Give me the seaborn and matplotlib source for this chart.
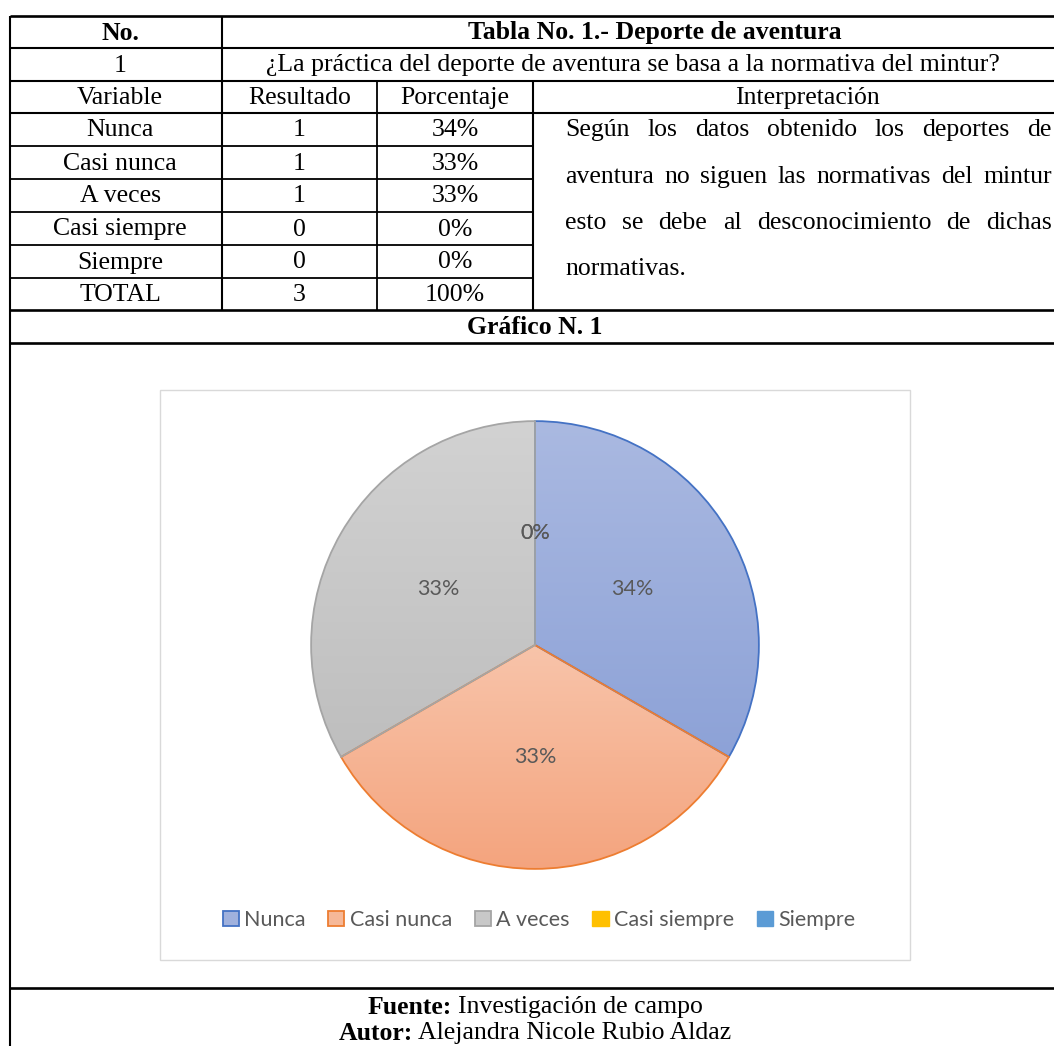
import numpy as np
import pandas as pd
import matplotlib.pyplot as plt
import seaborn as sns
from matplotlib.patches import Patch, Rectangle
from matplotlib.colors import LinearSegmentedColormap

# Data
variables = ["Nunca", "Casi nunca", "A veces", "Casi siempre", "Siempre"]
resultados = [1, 1, 1, 0, 0]
porcentajes = [34, 33, 33, 0, 0]
total_resultado = 3
total_porcentaje = 100

titulo = "Tabla No. 1.- Deporte de aventura"
pregunta = "¿La práctica del deporte de aventura se basa a la normativa del mintur?"
interpretacion = [
    "Según los datos obtenido los deportes de",
    "aventura no siguen las normativas del mintur",
    "esto se debe al desconocimiento de dichas",
    "normativas.",
]
grafico_titulo = "Gráfico N. 1"
fuente = "Investigación de campo"
autor = "Alejandra Nicole Rubio Aldaz"

df = pd.DataFrame({"Variable": variables, "Resultado": resultados, "Porcentaje": porcentajes})

# Excel-like colours (gradient top -> bottom, edge)
top_colors = ["#AAB9E1", "#F8C4AA", "#D2D2D2", "#FFC000", "#5B9BD5"]
bottom_colors = ["#8DA2D7", "#F4A47E", "#BEBEBE", "#FFC000", "#5B9BD5"]
edge_colors = sns.color_palette(["#4472C4", "#ED7D31", "#A5A5A5", "#FFC000", "#5B9BD5"])
legend_fill = ["#A0B1DD", "#F6B898", "#C8C8C8", "#FFC000", "#5B9BD5"]

sns.set_theme(style="white")
serif = ["Liberation Serif", "DejaVu Serif"]
sans = ["Lato", "DejaVu Sans"]
fs = 18.5

W, H = 1054, 1046
fig = plt.figure(figsize=(W / 100, H / 100), dpi=100)
fig.patch.set_facecolor("white")

# background axes in pixel coordinates for the table
bg = fig.add_axes([0, 0, 1, 1])
bg.set_xlim(0, W)
bg.set_ylim(H, 0)
bg.axis("off")

XL, XR = 10, W
cols = [10, 222, 377, 533]
row_y = [16, 48, 81, 113, 146, 179, 212, 245, 278, 310, 343, 988]


def hline(y, x0=XL, x1=XR, lw=1.5):
    bg.plot([x0, x1], [y, y], color="black", lw=lw, solid_capstyle="butt")


def vline(x, y0, y1, lw=1.5):
    bg.plot([x, x], [y0, y1], color="black", lw=lw, solid_capstyle="butt")


for y in [16, 48, 81, 113, 310, 343, 988]:
    hline(y, lw=1.9 if y in (16, 310, 343, 988) else 1.5)
for y in row_y[4:9]:
    hline(y, XL, cols[3], lw=1.3)
vline(XL, 16, H, lw=1.5)
vline(cols[1], 16, 310, lw=1.5)
vline(cols[2], 81, 310, lw=1.3)
vline(cols[3], 81, 310, lw=1.5)


def cell(x, y, s, bold=False, ha="center", size=fs):
    return bg.text(x, y, s, ha=ha, va="center", family=serif, size=size,
                   weight="bold" if bold else "normal", color="black")


def mid(i):
    return (row_y[i] + row_y[i + 1]) / 2 + 1


cx = [(cols[0] + cols[1]) / 2 + 4, (cols[1] + cols[2]) / 2, (cols[2] + cols[3]) / 2]

cell(cx[0], mid(0), "No.", bold=True)
cell(655, mid(0), titulo, bold=True)
cell(cx[0], mid(1), "1")
cell(633, mid(1), pregunta)
cell(cx[0], mid(2), "Variable")
cell(cx[1], mid(2), "Resultado")
cell(cx[2], mid(2), "Porcentaje")
cell(807, mid(2), "Interpretación")
for i, row in df.iterrows():
    cell(cx[0], mid(3 + i), row["Variable"])
    cell(cx[1], mid(3 + i), str(row["Resultado"]))
    cell(cx[2], mid(3 + i), f"{row['Porcentaje']}%")
cell(cx[0], mid(8), "TOTAL")
cell(cx[1], mid(8), str(total_resultado))
cell(cx[2], mid(8), f"{total_porcentaje}%")
cell(W / 2 + 8, mid(9), grafico_titulo, bold=True)

renderer = fig.canvas.get_renderer()


def width_of(t):
    return t.get_window_extent(renderer).width


# justified interpretation paragraph
para_x0, para_x1 = 565, 1052
para_y = [130, 177, 223, 269]
for k, line in enumerate(interpretacion):
    words = line.split()
    texts = [cell(0, para_y[k], w, ha="left") for w in words]
    widths = [width_of(t) for t in texts]
    if k < len(interpretacion) - 1 and len(words) > 1:
        gap = (para_x1 - para_x0 - sum(widths)) / (len(words) - 1)
    else:
        gap = 0.25 * fs * 100 / 72
    x = para_x0
    for t, w in zip(texts, widths):
        t.set_x(x)
        x += w + gap


# footer with bold run + normal run, centred
def mixed(y, label, rest, xc=W / 2 + 8):
    a = cell(0, y, label, bold=True, ha="left")
    b = cell(0, y, rest, ha="left")
    wa, wb = width_of(a), width_of(b)
    gap = 0.22 * fs * 100 / 72
    x0 = xc - (wa + gap + wb) / 2
    a.set_x(x0)
    b.set_x(x0 + wa + gap)


mixed(1007, "Fuente:", fuente)
mixed(1033, "Autor:", autor)

# chart area frame
bg.add_patch(Rectangle((160, 390), 750, 570, facecolor="white", edgecolor="#D9D9D9", lw=1.0))

# pie chart: slices from the counts, labels as shown in the table
pcx, pcy, rad = 535, 645, 225
ax = fig.add_axes([(pcx - rad) / W, 1 - (pcy + rad) / H, 2 * rad / W, 2 * rad / H])
wedges, _, autotexts = ax.pie(
    df["Resultado"], startangle=90, counterclock=False, autopct="%1.0f%%",
    pctdistance=0.5, colors=legend_fill,
    wedgeprops=dict(linewidth=1.3, edgecolor="white"),
    textprops=dict(family=sans, size=15.5, color="#595959"),
)
for t, p in zip(autotexts, df["Porcentaje"]):
    t.set_text(f"{p}%")
ax.set_aspect("equal")
ax.axis("off")

for w, ctop, cbot, ec in zip(wedges, top_colors, bottom_colors, edge_colors):
    w.set_edgecolor(ec)
    if w.theta2 - w.theta1 <= 0:
        continue
    bb = w.get_path().get_extents(w.get_patch_transform())
    cmap = LinearSegmentedColormap.from_list("g", [ctop, cbot])
    grad = np.linspace(0, 1, 256).reshape(-1, 1)
    im = ax.imshow(grad, cmap=cmap, aspect="auto", origin="upper",
                   extent=[bb.x0, bb.x1, bb.y0, bb.y1], zorder=w.get_zorder() - 0.1)
    im.set_clip_path(w)
    w.set_facecolor("none")
    w.set_zorder(w.get_zorder() + 0.5)
for t in autotexts:
    t.set_zorder(10)
ax.set_xlim(-1.005, 1.005)
ax.set_ylim(-1.005, 1.005)

# legend
handles = [Patch(facecolor=f, edgecolor=e, lw=1.3) for f, e in zip(legend_fill, edge_colors)]
handles[3] = Patch(facecolor=legend_fill[3], edgecolor=legend_fill[3])
handles[4] = Patch(facecolor=legend_fill[4], edgecolor=legend_fill[4])
fig.legend(handles, variables, loc="center", bbox_to_anchor=(539 / W, 1 - 920 / H),
           ncol=5, frameon=False, handlelength=0.75, handleheight=0.75,
           handletextpad=0.25, columnspacing=1.05,
           prop=dict(family=sans, size=15.5), labelcolor="#595959")

fig.savefig("out.png", dpi=100, facecolor="white")
